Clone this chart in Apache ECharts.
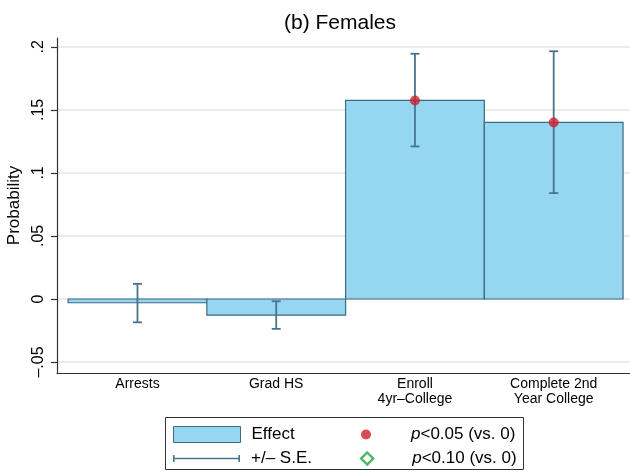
<!DOCTYPE html>
<html>
<head>
<meta charset="utf-8">
<script src="https://cdn.jsdelivr.net/npm/echarts@6/dist/echarts.min.js"></script>
<style>
  html, body { margin: 0; padding: 0; background: #fff; }
  #chart { width: 630px; height: 473px; }
</style>
</head>
<body>
<div id="chart"></div>
<script>
// Outcome categories and estimated effects (probability scale)
const categories = ['Arrests', 'Grad HS', 'Enroll\n4yr\u2013College', 'Complete 2nd\nYear College'];
const estimates = [-0.0030, -0.0128, 0.1575, 0.1400];
const seLower = [-0.0185, -0.0237, 0.1210, 0.0840];
const seUpper = [0.0120, -0.0018, 0.1945, 0.1965];
const sig05 = [false, false, true, true];
const sig10 = [false, false, false, false];
const yTicks = [-0.05, 0, 0.05, 0.1, 0.15, 0.2];
const yTickLabels = ['\u2013.05', '0', '.05', '.1', '.15', '.2'];

const FONT = "'Liberation Sans', Arial, Helvetica, sans-serif";
const BAR_FILL = '#95d6f0';
const BAR_EDGE = '#3f6885';
const SE_COLOR = '#4a7390';
const RED = '#cc2229';
const GREEN = '#1fa53a';

const chart = echarts.init(document.getElementById('chart'), null, { renderer: 'canvas' });

const barData = estimates.map((v, i) => [i + 1, v]);
const seData = categories.map((c, i) => [i + 1, seLower[i], seUpper[i]]);
const sig05Data = estimates.map((v, i) => [i + 1, v]).filter((d, i) => sig05[i]);
const sig10Data = estimates.map((v, i) => [i + 1, v]).filter((d, i) => sig10[i]);

function yLabel(v) {
  const k = yTicks.findIndex(t => Math.abs(t - v) < 1e-9);
  return k >= 0 ? yTickLabels[k] : '';
}

const legendText = { fontSize: 17, color: '#000', fontFamily: FONT,
  rich: { i: { fontStyle: 'italic', fontSize: 17, fontFamily: FONT } } };

const option = {
  animation: false,
  backgroundColor: '#fff',
  textStyle: { fontFamily: FONT },
  title: {
    text: '(b) Females',
    left: 335, top: 8, textAlign: 'center',
    textStyle: { fontSize: 21, fontWeight: 'normal', color: '#000', fontFamily: FONT }
  },
  grid: { left: 57, right: 0, top: 38, bottom: 100, containLabel: false, outerBoundsMode: 'none' },
  xAxis: {
    type: 'value', min: 0.42, max: 4.55,
    axisLine: { show: true, onZero: false, lineStyle: { color: '#333', width: 1.2 } },
    axisTick: { show: false },
    splitLine: { show: false },
    axisLabel: {
      customValues: [1, 2, 3, 4],
      formatter: v => categories[Math.round(v) - 1],
      fontSize: 14, color: '#000', margin: 4, lineHeight: 15, fontFamily: FONT
    }
  },
  yAxis: {
    type: 'value', min: -0.0587, max: 0.207,
    name: 'Probability', nameLocation: 'middle', nameGap: 34,
    nameTextStyle: { fontSize: 17, color: '#000', fontFamily: FONT },
    axisLine: { show: true, onZero: false, lineStyle: { color: '#333', width: 1.2 } },
    axisTick: { show: true, customValues: yTicks, length: 6, lineStyle: { color: '#333', width: 1.2 } },
    axisLabel: {
      customValues: yTicks, formatter: yLabel, rotate: 90,
      fontSize: 16, color: '#000', margin: 10, fontFamily: FONT
    },
    splitLine: { show: true, lineStyle: { color: '#e6e6e6', width: 1.5 } }
  },
  legend: [
    {
      data: [{ name: 'Effect', icon: 'rect',
        itemStyle: { color: BAR_FILL, borderColor: BAR_EDGE, borderWidth: 1 } }],
      left: 173, top: 426, itemWidth: 67, itemHeight: 16, padding: 0,
      selectedMode: false, textStyle: Object.assign({ padding: [0, 0, 0, 6] }, legendText)
    },
    {
      data: [{ name: '+/\u2013 S.E.',
        icon: 'path://M0,0h1.6v7h-1.6z M0,2.8h67v1.4h-67z M65.4,0h1.6v7h-1.6z',
        itemStyle: { color: SE_COLOR, borderWidth: 0 } }],
      left: 173, top: 450, itemWidth: 67, itemHeight: 7, padding: 0,
      selectedMode: false, textStyle: Object.assign({ padding: [0, 0, 0, 6] }, legendText)
    },
    {
      data: [{ name: 'p<0.05 (vs. 0)', icon: 'circle', itemStyle: { color: RED, borderWidth: 0 } }],
      left: 361, top: 426, itemWidth: 10, itemHeight: 10, padding: 0,
      selectedMode: false, textStyle: Object.assign({ padding: [0, 0, 0, 35] }, legendText),
      formatter: n => '{i|p}' + n.slice(1)
    },
    {
      data: [{ name: 'p<0.10 (vs. 0)', icon: 'diamond',
        itemStyle: { color: '#fff', borderColor: GREEN, borderWidth: 2.4 } }],
      left: 360, top: 450, itemWidth: 12, itemHeight: 12, padding: 0,
      selectedMode: false, textStyle: Object.assign({ padding: [0, 0, 0, 34] }, legendText),
      formatter: n => '{i|p}' + n.slice(1)
    }
  ],
  graphic: [
    { type: 'rect', shape: { x: 165.5, y: 417.5, width: 358, height: 52 },
      style: { fill: 'none', stroke: '#333', lineWidth: 1 }, z: 100, silent: true }
  ],
  series: [
    {
      name: 'Effect', type: 'custom', data: barData, encode: { x: 0, y: 1 }, z: 2,
      renderItem: (params, api) => {
        const x = api.value(0), v = api.value(1);
        const a = api.coord([x - 0.5, v]);
        const b = api.coord([x + 0.5, 0]);
        return {
          type: 'rect',
          shape: { x: a[0], y: Math.min(a[1], b[1]), width: b[0] - a[0], height: Math.abs(b[1] - a[1]) },
          style: { fill: BAR_FILL, stroke: BAR_EDGE, lineWidth: 1.2 }
        };
      }
    },
    {
      name: '+/\u2013 S.E.', type: 'custom', data: seData, encode: { x: 0, y: [1, 2] }, z: 3,
      renderItem: (params, api) => {
        const x = api.value(0);
        const lo = api.coord([x, api.value(1)]);
        const hi = api.coord([x, api.value(2)]);
        const w = 4.5;
        const st = { stroke: SE_COLOR, lineWidth: 1.8, fill: 'none' };
        return {
          type: 'group',
          children: [
            { type: 'line', shape: { x1: lo[0], y1: lo[1], x2: hi[0], y2: hi[1] }, style: st },
            { type: 'line', shape: { x1: lo[0] - w, y1: lo[1], x2: lo[0] + w, y2: lo[1] }, style: st },
            { type: 'line', shape: { x1: hi[0] - w, y1: hi[1], x2: hi[0] + w, y2: hi[1] }, style: st }
          ]
        };
      }
    },
    {
      name: 'p<0.05 (vs. 0)', type: 'scatter', data: sig05Data, symbol: 'circle', symbolSize: 10,
      itemStyle: { color: RED }, z: 4
    },
    {
      name: 'p<0.10 (vs. 0)', type: 'scatter', data: sig10Data, symbol: 'diamond', symbolSize: 12,
      itemStyle: { color: '#fff', borderColor: GREEN, borderWidth: 2.4 }, z: 4
    }
  ]
};

chart.setOption(option);
</script>
</body>
</html>
